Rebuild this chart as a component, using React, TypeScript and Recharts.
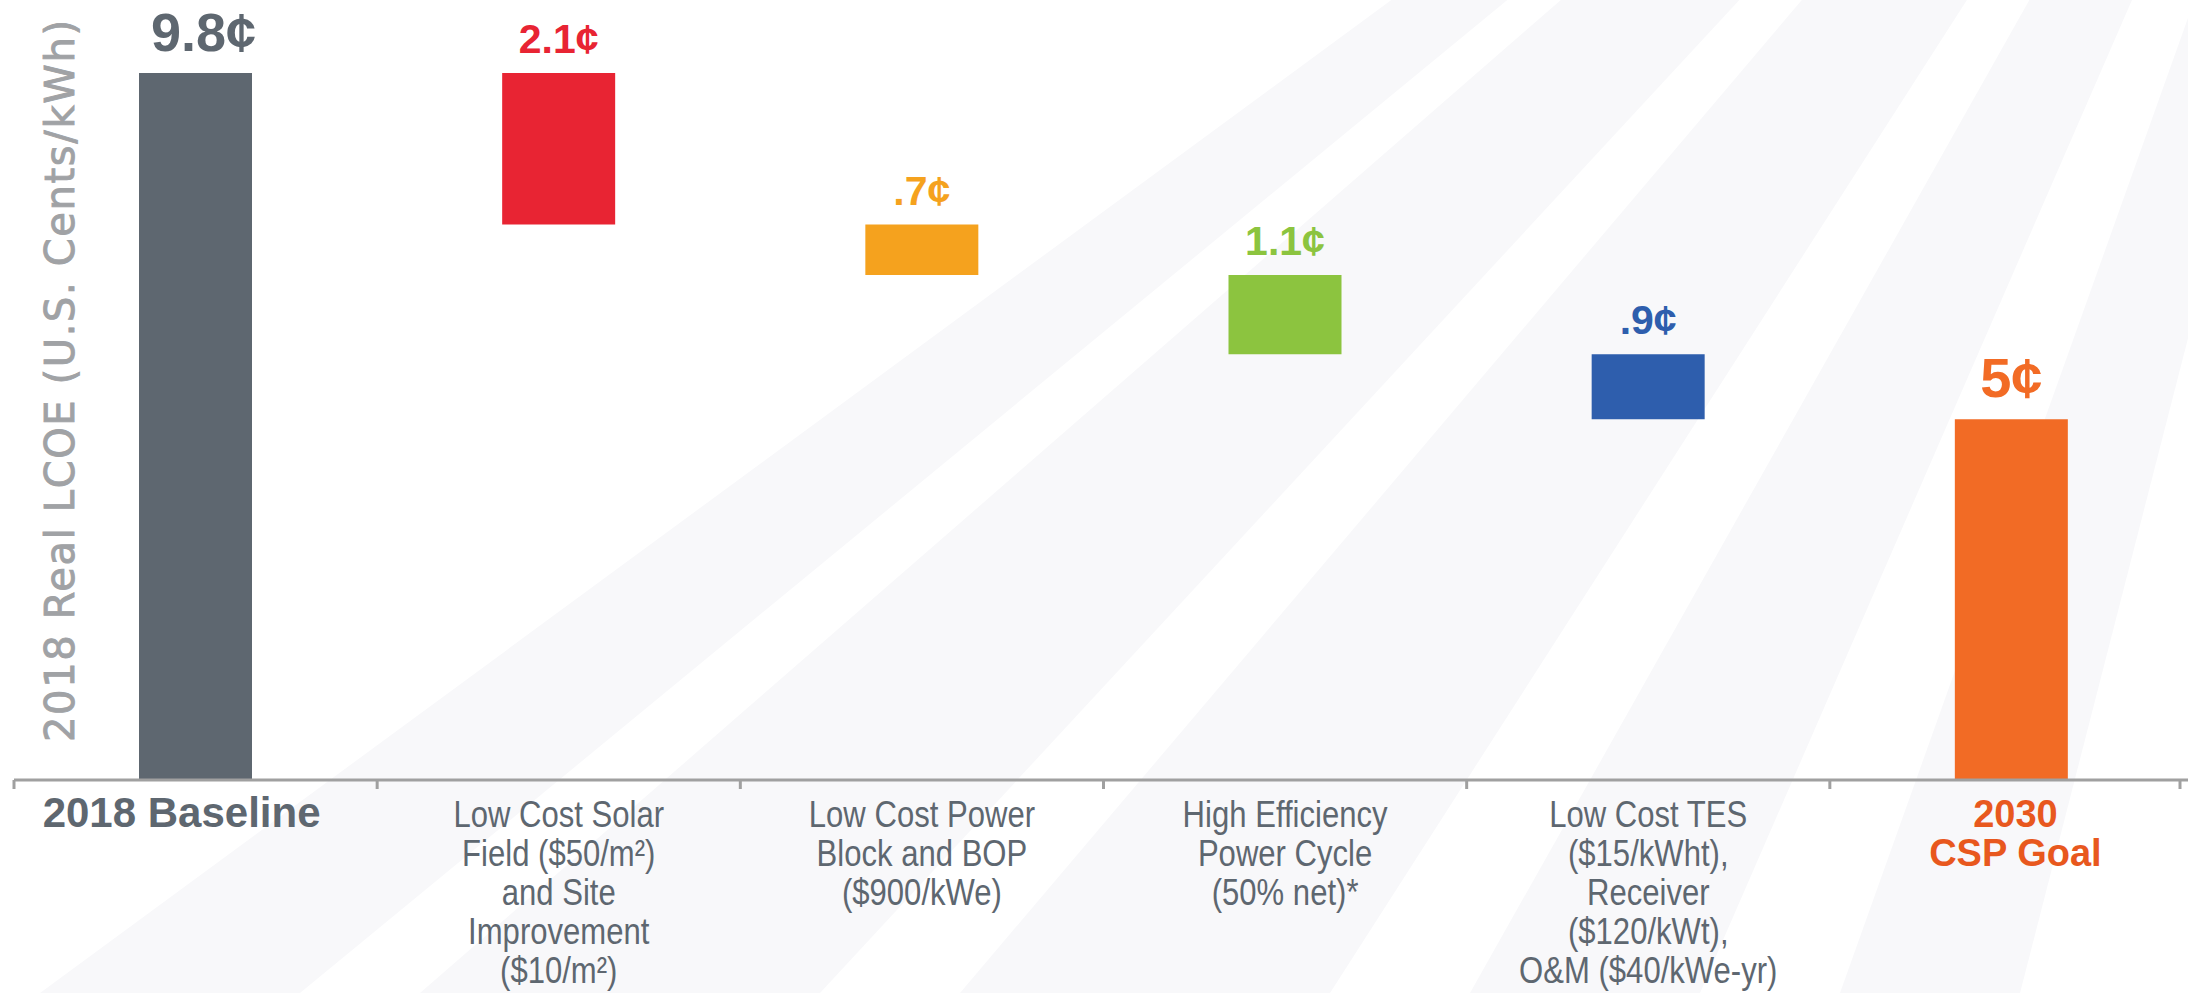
import { BarChart, Bar, XAxis, YAxis, Cell, LabelList } from "recharts";

// categories, one entry per line of the tick label
const categoryLines = [
  ["2018 Baseline"],
  ["Low Cost Solar", "Field ($50/m²)", "and Site", "Improvement", "($10/m²)"],
  ["Low Cost Power", "Block and BOP", "($900/kWe)"],
  ["High Efficiency", "Power Cycle", "(50% net)*"],
  ["Low Cost TES", "($15/kWht),", "Receiver", "($120/kWt),", "O&M ($40/kWe-yr)"],
  ["2030", "CSP Goal"],
];
const bases = [0, 7.7, 7.0, 5.9, 5.0, 0];
const deltas = [9.8, 2.1, 0.7, 1.1, 0.9, 5.0];
const valueLabels = ["9.8¢", "2.1¢", ".7¢", "1.1¢", ".9¢", "5¢"];
const yTitle = "2018 Real LCOE (U.S. Cents/kWh)";

const barColors = ["#5e6770", "#e82433", "#f5a21e", "#8cc43f", "#2e5ead", "#f26b25"];
const textGrey = "#5e6770";
const goalText = "#e8581e";

const W = 2188;
const H = 993;
const M = { top: 73, right: -5, left: 14, bottom: 0 };
const BAND = (W - M.left - M.right) / categoryLines.length;
const FONT = "'Liberation Sans', Arial, sans-serif";

const data = categoryLines.map((lines, i) => ({
  name: lines.join(" "),
  base: bases[i],
  delta: deltas[i],
  label: valueLabels[i],
}));

function CategoryTick(props: any) {
  const { x, y, index } = props;
  const lines = categoryLines[index];
  const last = index === categoryLines.length - 1;
  const left = x - BAND / 2;
  const right = Math.min(x + BAND / 2, W - 8);

  let body;
  if (index === 0) {
    body = (
      <text x={x - 14} y={y + 47} textAnchor="middle" fill={textGrey} fontFamily={FONT} fontWeight={700} fontSize={42}>
        {lines[0]}
      </text>
    );
  } else if (last) {
    body = (
      <text textAnchor="middle" fill={goalText} fontFamily={FONT} fontWeight={700} fontSize={38}>
        {lines.map((l, k) => (
          <tspan key={k} x={x + 4} y={y + 47 + k * 39}>
            {l}
          </tspan>
        ))}
      </text>
    );
  } else {
    // narrow the regular labels horizontally around the tick centre
    body = (
      <g transform={`translate(${x},0) scale(0.84,1)`}>
        <text textAnchor="middle" fill={textGrey} fontFamily={FONT} fontSize={37}>
          {lines.map((l, k) => (
            <tspan key={k} x={0} y={y + 47 + k * 39}>
              {l}
            </tspan>
          ))}
        </text>
      </g>
    );
  }

  return (
    <g>
      <line x1={left} x2={left} y1={y} y2={y + 9} stroke="#a0a0a0" strokeWidth={3} />
      {last && <line x1={right} x2={right} y1={y} y2={y + 9} stroke="#a0a0a0" strokeWidth={3} />}
      {body}
    </g>
  );
}

function ValueLabel(props: any) {
  const { x, y, width, value } = props;
  const i = valueLabels.indexOf(value);
  const big = i === 0 || i === valueLabels.length - 1;
  return (
    <text
      x={x + width / 2 + (i === 0 ? 8 : 0)}
      y={y - (big ? 22 : 20)}
      textAnchor="middle"
      fill={barColors[i]}
      fontFamily={FONT}
      fontWeight={700}
      fontSize={i === 0 ? 54 : i === valueLabels.length - 1 ? 56 : 41}
    >
      {value}
    </text>
  );
}

// faint sunburst stripes behind the chart
const F = [2480, -800];
const stripeFeet = [
  [40, 300],
  [420, 820],
  [960, 1330],
  [1470, 1700],
  [1840, 2020],
];

export default function App() {
  return (
    <div style={{ position: "absolute", left: 0, top: 0, width: W, height: H, background: "#fff" }}>
      <svg width={W} height={H} style={{ position: "absolute", left: 0, top: 0 }}>
        {stripeFeet.map(([a, b], k) => (
          <polygon key={k} points={`${F[0]},${F[1]} ${a},${H} ${b},${H}`} fill="#f8f8fa" />
        ))}
      </svg>
      <div style={{ position: "absolute", left: 0, top: 0 }}>
        <BarChart width={W} height={H} data={data} margin={M} barSize={113}>
          <XAxis
            dataKey="name"
            interval={0}
            height={213}
            axisLine={{ stroke: "#a0a0a0", strokeWidth: 3 }}
            tickLine={false}
            tickSize={0}
            tickMargin={0}
            tick={<CategoryTick />}
          />
          <YAxis domain={[0, 9.8]} hide />
          <Bar dataKey="base" stackId="w" fill="transparent" isAnimationActive={false} />
          <Bar dataKey="delta" stackId="w" isAnimationActive={false}>
            {data.map((_, i) => (
              <Cell key={i} fill={barColors[i]} />
            ))}
            <LabelList dataKey="label" content={<ValueLabel />} />
          </Bar>
        </BarChart>
      </div>
      <svg width={120} height={H} style={{ position: "absolute", left: 0, top: 0, pointerEvents: "none" }}>
        <text
          x={74}
          y={381}
          transform="rotate(-90, 74, 381)"
          textAnchor="middle"
          fill="#a0a2a5"
          stroke="#a0a2a5"
          strokeWidth={0.9}
          fontFamily="'DejaVu Sans', sans-serif"
          fontSize={40}
          textLength={722}
          lengthAdjust="spacing"
        >
          {yTitle}
        </text>
      </svg>
    </div>
  );
}
